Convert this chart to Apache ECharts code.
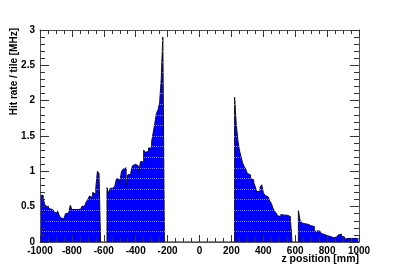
<!DOCTYPE html>
<html><head><meta charset="utf-8">
<script src="https://cdn.jsdelivr.net/npm/echarts@6/dist/echarts.min.js"></script>
<style>html,body{margin:0;padding:0;background:#fff}#c{width:399px;height:270px}</style>
</head><body><div id="c"></div>
<script>
// bin width [mm] and first bin edge of each populated block [mm]
const binWidth = 10;
const blockStarts = [-1000, -580, 220, 620];
// hit rate per tile [MHz], one value per 10 mm bin
const rateOuterLeft = [0.66,0.66,0.62,0.52,0.50,0.49,0.47,0.46,0.44,0.42,
  0.41,0.44,0.38,0.34,0.33,0.35,0.40,0.41,0.42,0.52,
  0.46,0.46,0.45,0.46,0.46,0.47,0.50,0.51,0.53,0.57,
  0.60,0.65,0.63,0.70,0.68,0.77,1.00,0.97];
const rateInnerLeft = [0.77,0.69,0.76,0.76,0.78,0.80,0.90,0.88,0.83,0.99,
  1.03,1.05,0.78,0.95,0.96,0.99,1.08,1.10,1.08,1.07,
  0.98,1.14,1.13,1.30,1.27,1.28,1.33,1.33,1.42,1.55,
  1.68,1.82,1.87,1.97,2.31,2.90];
const rateInnerRight = [2.05,1.68,1.45,1.30,1.21,1.12,1.07,1.03,0.97,0.95,
  0.90,0.88,0.84,0.78,0.71,0.72,0.78,0.81,0.70,0.66,
  0.64,0.62,0.58,0.55,0.48,0.44,0.41,0.37,0.36,0.39,
  0.38,0.39,0.38,0.37,0.36,0.33];
const rateOuterRight = [0.45,0.31,0.27,0.26,0.25,0.25,0.24,0.23,0.22,0.22,
  0.18,0.13,0.16,0.15,0.12,0.11,0.10,0.09,0.10,0.08,
  0.07,0.06,0.06,0.07,0.08,0.10,0.11,0.08,0.07,0.04,
  0.05,0.06,0.05,0.04,0.05,0.06,0.05,0.04];
const xTickLabels = [-1000,-800,-600,-400,-200,0,200,400,600,800,1000];
const yTickLabels = [0,0.5,1,1.5,2,2.5,3];
const xTitle = 'z position [mm]';
const yTitle = 'Hit rate / tile [MHz]';

const blocks = [rateOuterLeft, rateInnerLeft, rateInnerRight, rateOuterRight];
const xMin = xTickLabels[0], xMax = xTickLabels[xTickLabels.length-1];
const nBins = (xMax - xMin) / binWidth;
const hist = new Array(nBins).fill(0);
blocks.forEach((arr, b) => {
  const i0 = (blockStarts[b] - xMin) / binWidth;
  arr.forEach((v, k) => { hist[i0 + k] = v; });
});
const stepData = hist.map((v, i) => [xMin + i * binWidth, v]);
stepData.push([xMax, hist[nBins - 1]]);

const font = 'Liberation Sans, Arial, Helvetica, sans-serif';
const axisLineStyle = {color: '#555', width: 1};
const common = {
  min: xMin, max: xMax, interval: 200, type: 'value', z: 5,
  axisLine: {show: true, onZero: false, lineStyle: axisLineStyle},
  axisTick: {show: true, inside: true, length: 7, lineStyle: {color: '#333'}},
  minorTick: {show: true, splitNumber: 4, length: 4, lineStyle: {color: '#333'}},
  splitLine: {show: false}, minorSplitLine: {show: false}
};
const yCommon = {
  min: 0, max: 3, interval: 0.5, type: 'value', z: 5,
  axisLine: {show: true, onZero: false, lineStyle: axisLineStyle},
  axisTick: {show: true, inside: true, length: 9, lineStyle: {color: '#333'}},
  minorTick: {show: true, splitNumber: 5, length: 5, lineStyle: {color: '#333'}},
  splitLine: {show: false}, minorSplitLine: {show: false}
};
const chart = echarts.init(document.getElementById('c'), null, {renderer: 'canvas'});
chart.setOption({
  animation: false,
  backgroundColor: '#fff',
  grid: {left: 40, right: 40, top: 30, bottom: 28},
  xAxis: [
    Object.assign({}, common, {position: 'bottom',
      axisLabel: {show: true, margin: 4, fontSize: 10, fontWeight: 'bold', color: '#000', fontFamily: font,
        formatter: v => xTickLabels.includes(v) ? String(v) : ''}}),
    Object.assign({}, common, {position: 'top', axisLabel: {show: false}})
  ],
  yAxis: [
    Object.assign({}, yCommon, {position: 'left',
      axisLabel: {show: true, margin: 5, fontSize: 10, fontWeight: 'bold', color: '#000', fontFamily: font,
        formatter: v => yTickLabels.includes(v) ? String(v) : ''}}),
    Object.assign({}, yCommon, {position: 'right', axisLabel: {show: false}}),
    // overlay: faint white dotted grid drawn over the filled histogram
    {type: 'value', min: 0, max: 3, interval: 0.15, position: 'right', z: 4,
      axisLine: {show: false}, axisTick: {show: false}, axisLabel: {show: false},
      splitLine: {show: true, lineStyle: {color: '#ffffff', width: 1, type: [1, 1], opacity: 0.5}}}
  ],
  series: [{
    type: 'line', step: 'end', xAxisIndex: 0, yAxisIndex: 0,
    data: stepData, showSymbol: false, symbol: 'none',
    lineStyle: {color: '#111', width: 1},
    areaStyle: {color: '#0000ff', opacity: 1}
  }],
  graphic: [
    {type: 'text', x: 359, y: 254, style: {text: xTitle, textAlign: 'right', textVerticalAlign: 'top',
      font: 'bold 10.5px ' + font, fill: '#000'}},
    {type: 'text', x: 14, y: 28, rotation: Math.PI / 2,
      style: {text: yTitle, textAlign: 'right', textVerticalAlign: 'middle',
      font: 'bold 10px ' + font, fill: '#000'}}
  ]
});
</script></body></html>
